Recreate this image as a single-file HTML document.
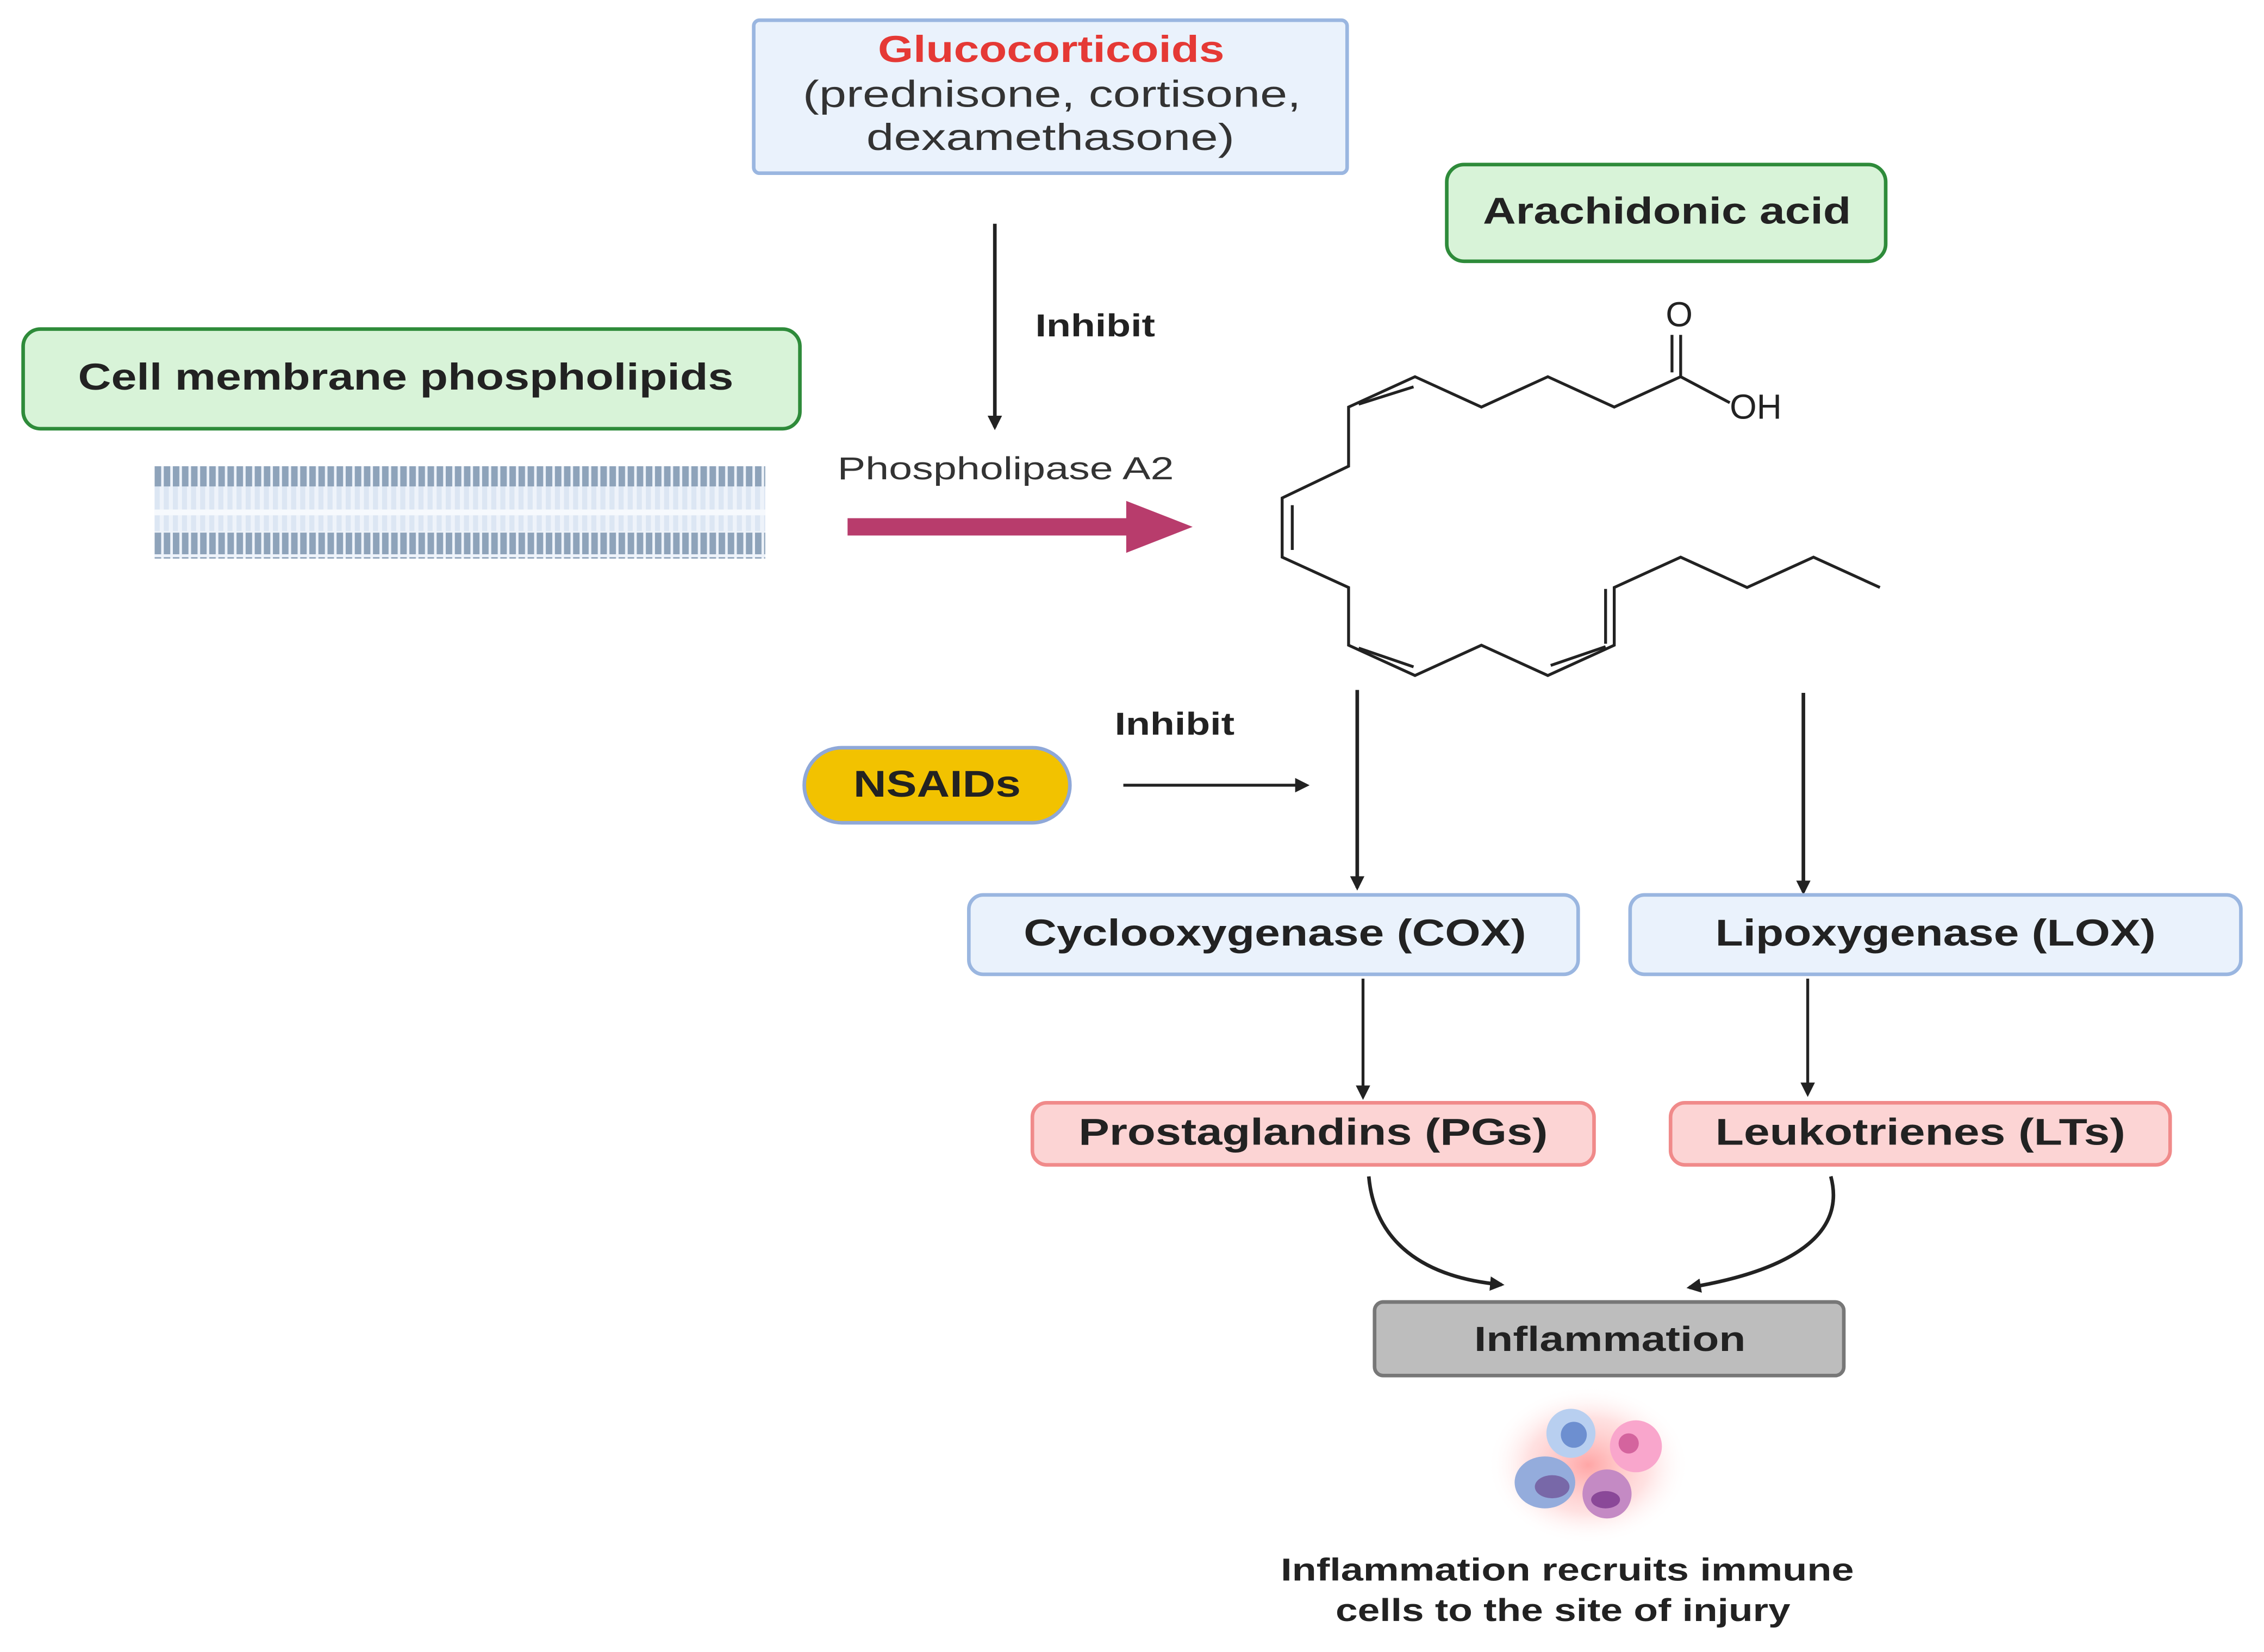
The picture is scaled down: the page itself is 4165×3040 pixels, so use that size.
<!DOCTYPE html>
<html><head><meta charset="utf-8"><style>html,body{margin:0;padding:0;background:#fff}svg{display:block}</style></head><body>
<svg width="4165" height="3040" viewBox="0 0 1568 1144.5" xmlns="http://www.w3.org/2000/svg" font-family="Liberation Sans, sans-serif">
<defs>
<marker id="ah" markerWidth="10" markerHeight="10" refX="8" refY="5" orient="auto" markerUnits="userSpaceOnUse"><path d="M0,0 L10,5 L0,10 Z" fill="#222"/></marker>
<radialGradient id="glow"><stop offset="0" stop-color="#ff9c9c" stop-opacity="0.9"/><stop offset="0.6" stop-color="#ffc4c4" stop-opacity="0.5"/><stop offset="1" stop-color="#fff" stop-opacity="0"/></radialGradient>
<pattern id="mem" width="6.3" height="64" patternUnits="userSpaceOnUse"><rect x="0" y="0" width="6.3" height="64" fill="#eef3fa"/><rect x="0" y="16" width="3.5" height="32" fill="#dce6f3"/><rect x="0" y="2" width="4.5" height="15" fill="#8ea3ba"/><rect x="0" y="49" width="4.5" height="15" fill="#8ea3ba"/></pattern>
</defs>
<rect x="522" y="14" width="411" height="106" rx="4" fill="#eaf2fc" stroke="#9ab6e0" stroke-width="2.5"/>
<text x="608" y="43" font-size="26" font-weight="bold" fill="#e53935" textLength="240" lengthAdjust="spacingAndGlyphs">Glucocorticoids</text>
<text x="556" y="74" font-size="26" fill="#333" textLength="345" lengthAdjust="spacingAndGlyphs">(prednisone, cortisone,</text>
<text x="600" y="104" font-size="26" fill="#333" textLength="255" lengthAdjust="spacingAndGlyphs">dexamethasone)</text>
<rect x="1002" y="114" width="304" height="67" rx="12" fill="#d8f3d8" stroke="#2e8b3a" stroke-width="2.5"/>
<text x="1027" y="155" font-size="26" font-weight="bold" fill="#222" textLength="255" lengthAdjust="spacingAndGlyphs">Arachidonic acid</text>
<rect x="16" y="228" width="538" height="69" rx="12" fill="#d8f3d8" stroke="#2e8b3a" stroke-width="2.5"/>
<text x="54" y="270" font-size="26" font-weight="bold" fill="#222" textLength="454" lengthAdjust="spacingAndGlyphs">Cell membrane phospholipids</text>
<rect x="107" y="323" width="423" height="64" fill="url(#mem)"/>
<rect x="107" y="353" width="423" height="4" fill="#f6f9fd"/>
<line x1="689" y1="155" x2="689" y2="296" stroke="#222" stroke-width="2.5" marker-end="url(#ah)"/>
<text x="717" y="233" font-size="22" font-weight="bold" fill="#222" textLength="83" lengthAdjust="spacingAndGlyphs">Inhibit</text>
<text x="580" y="332" font-size="22" fill="#333" textLength="233" lengthAdjust="spacingAndGlyphs">Phospholipase A2</text>
<rect x="587" y="359" width="195" height="12" fill="#b83c6c"/>
<path d="M780,347 L826,365 L780,383 Z" fill="#b83c6c"/>
<g stroke="#222" stroke-width="2" fill="none">
<polyline points="1302,407 1256,386 1210,407 1164,386 1118,407 1118,447 1072,468 1026,447 980,468 934,447 934,407 888,386 888,345 934,323 934,282 980,261 1026,282 1072,261 1118,282 1164,261 1198,279"/>
<line x1="1164" y1="261" x2="1164" y2="232"/><line x1="1158" y1="258" x2="1158" y2="232"/>
<line x1="941" y1="280" x2="979" y2="268"/>
<line x1="895" y1="350" x2="895" y2="381"/>
<line x1="941" y1="449" x2="979" y2="462"/>
<line x1="1074" y1="461" x2="1112" y2="448"/>
<line x1="1112" y1="408" x2="1112" y2="446"/>
</g>
<text x="1163" y="226" font-size="24" fill="#222" text-anchor="middle">O</text>
<text x="1198" y="290" font-size="24" fill="#222">OH</text>
<text x="772" y="509" font-size="22" font-weight="bold" fill="#222" textLength="83" lengthAdjust="spacingAndGlyphs">Inhibit</text>
<rect x="557" y="518" width="184" height="52" rx="26" fill="#f2c200" stroke="#8fa8d8" stroke-width="2.5"/>
<text x="591" y="552" font-size="26" font-weight="bold" fill="#222" textLength="116" lengthAdjust="spacingAndGlyphs">NSAIDs</text>
<line x1="778" y1="544" x2="905" y2="544" stroke="#222" stroke-width="2" marker-end="url(#ah)"/>
<line x1="940" y1="478" x2="940" y2="615" stroke="#222" stroke-width="2.5" marker-end="url(#ah)"/>
<line x1="1249" y1="480" x2="1249" y2="618" stroke="#222" stroke-width="2.5" marker-end="url(#ah)"/>
<rect x="671" y="620" width="422" height="55" rx="10" fill="#eaf2fc" stroke="#9ab6e0" stroke-width="2.5"/>
<text x="709" y="655" font-size="26" font-weight="bold" fill="#222" textLength="348" lengthAdjust="spacingAndGlyphs">Cyclooxygenase (COX)</text>
<rect x="1129" y="620" width="423" height="55" rx="10" fill="#eaf2fc" stroke="#9ab6e0" stroke-width="2.5"/>
<text x="1188" y="655" font-size="26" font-weight="bold" fill="#222" textLength="305" lengthAdjust="spacingAndGlyphs">Lipoxygenase (LOX)</text>
<line x1="944" y1="678" x2="944" y2="760" stroke="#222" stroke-width="2" marker-end="url(#ah)"/>
<line x1="1252" y1="678" x2="1252" y2="758" stroke="#222" stroke-width="2" marker-end="url(#ah)"/>
<rect x="715" y="764" width="389" height="43" rx="10" fill="#fcd4d4" stroke="#f08a8a" stroke-width="2.5"/>
<text x="747" y="793" font-size="26" font-weight="bold" fill="#222" textLength="325" lengthAdjust="spacingAndGlyphs">Prostaglandins (PGs)</text>
<rect x="1157" y="764" width="346" height="43" rx="10" fill="#fcd4d4" stroke="#f08a8a" stroke-width="2.5"/>
<text x="1188" y="793" font-size="26" font-weight="bold" fill="#222" textLength="284" lengthAdjust="spacingAndGlyphs">Leukotrienes (LTs)</text>
<path d="M948,815 C952,860 985,885 1040,890" stroke="#222" stroke-width="2.5" fill="none" marker-end="url(#ah)"/>
<path d="M1268,815 C1280,860 1230,882 1170,892" stroke="#222" stroke-width="2.5" fill="none" marker-end="url(#ah)"/>
<rect x="952" y="902" width="325" height="51" rx="6" fill="#bdbdbd" stroke="#777" stroke-width="2.5"/>
<text x="1021" y="936" font-size="24" font-weight="bold" fill="#222" textLength="188" lengthAdjust="spacingAndGlyphs">Inflammation</text>
<ellipse cx="1100" cy="1015" rx="70" ry="55" fill="url(#glow)"/>
<circle cx="1088" cy="993" r="17" fill="#b8cff0"/><circle cx="1090" cy="994" r="9" fill="#6d8fd0"/>
<circle cx="1133" cy="1002" r="18" fill="#f9a6cc"/><circle cx="1128" cy="1000" r="7" fill="#d4649e"/>
<ellipse cx="1070" cy="1027" rx="21" ry="18" fill="#94acdc"/><ellipse cx="1075" cy="1030" rx="12" ry="8" fill="#7868a8"/>
<circle cx="1113" cy="1035" r="17" fill="#c48ac4"/><ellipse cx="1112" cy="1039" rx="10" ry="6" fill="#8a4898"/>
<text x="887" y="1095" font-size="22" font-weight="bold" fill="#222" textLength="397" lengthAdjust="spacingAndGlyphs">Inflammation recruits immune</text>
<text x="925" y="1123" font-size="22" font-weight="bold" fill="#222" textLength="315" lengthAdjust="spacingAndGlyphs">cells to the site of injury</text>
</svg>
</body></html>
